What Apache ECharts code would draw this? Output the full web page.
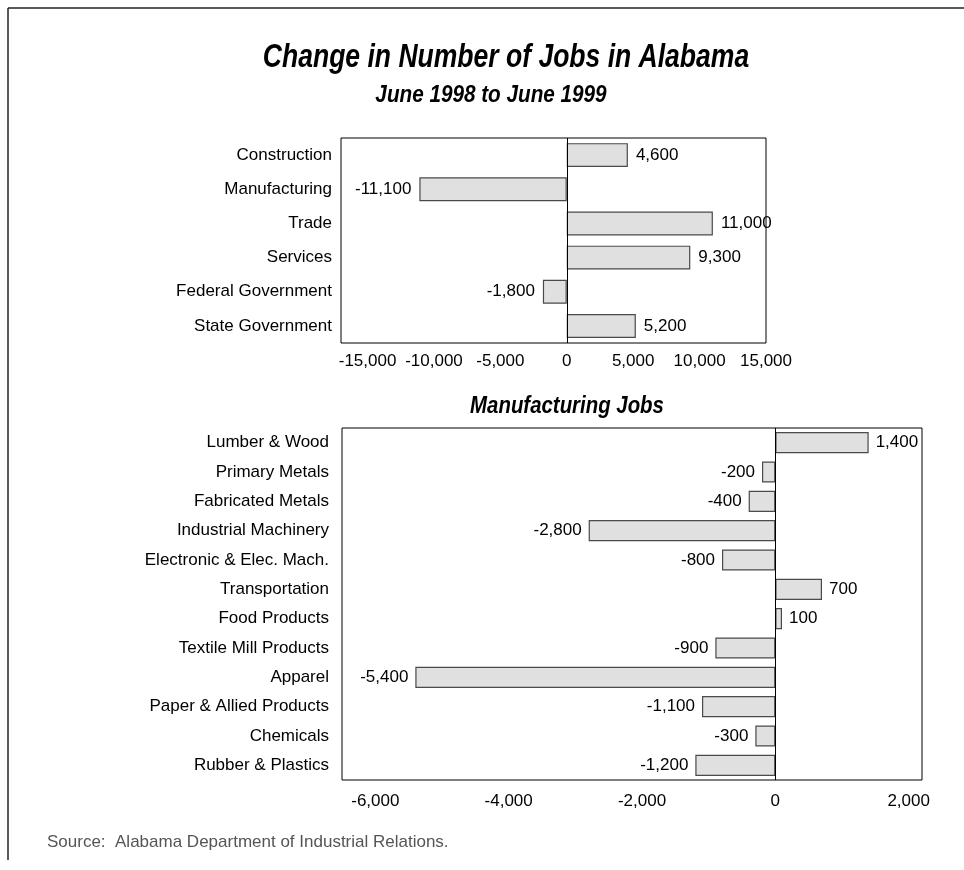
<!DOCTYPE html>
<html>
<head>
<meta charset="utf-8">
<script src="https://cdn.jsdelivr.net/npm/echarts@6/dist/echarts.min.js"></script>
<style>
  html, body { margin: 0; padding: 0; background: #fff; }
  #DataChart { width: 964px; height: 870px; }
</style>
</head>
<body>
<div id="DataChart"></div>
<script>
// data
var topCategories = ['Construction', 'Manufacturing', 'Trade', 'Services', 'Federal Government', 'State Government'];
var topValues = [4600, -11100, 11000, 9300, -1800, 5200];
var topTicks = [-15000, -10000, -5000, 0, 5000, 10000, 15000];

var mfgCategories = ['Lumber & Wood', 'Primary Metals', 'Fabricated Metals', 'Industrial Machinery',
    'Electronic & Elec. Mach.', 'Transportation', 'Food Products', 'Textile Mill Products',
    'Apparel', 'Paper & Allied Products', 'Chemicals', 'Rubber & Plastics'];
var mfgValues = [1400, -200, -400, -2800, -800, 700, 100, -900, -5400, -1100, -300, -1200];
var mfgTicks = [-6000, -4000, -2000, 0, 2000];

var FONT = '"Liberation Sans", Arial, Helvetica, sans-serif';

function fmt(v) {
    var s = String(Math.abs(v)).replace(/\B(?=(\d{3})+(?!\d))/g, ',');
    return v < 0 ? '-' + s : s;
}

function barData(values) {
    return values.map(function (v) {
        return { value: v, label: { position: v < 0 ? 'left' : 'right' } };
    });
}

var myChart = echarts.init(document.getElementById('DataChart'));

var barStyle = {
    color: '#e0e0e0',
    borderColor: '#4a4a4a',
    borderWidth: 1.2
};

var zeroLine = {
    silent: true,
    symbol: ['none', 'none'],
    label: { show: false },
    lineStyle: { color: '#000', width: 1, type: 'solid' },
    data: [{ xAxis: 0 }]
};

function valueAxis(gridIndex, min, max, ticks, margin) {
    return {
        type: 'value',
        gridIndex: gridIndex,
        min: min,
        max: max,
        axisLine: { show: false },
        axisTick: { show: false },
        splitLine: { show: false },
        axisLabel: {
            customValues: ticks,
            margin: margin,
            color: '#000',
            fontSize: 17,
            fontFamily: FONT,
            formatter: fmt
        }
    };
}

function catAxis(gridIndex, cats, margin) {
    return {
        type: 'category',
        gridIndex: gridIndex,
        data: cats,
        inverse: true,
        axisLine: { show: false },
        axisTick: { show: false },
        splitLine: { show: false },
        axisLabel: {
            margin: margin,
            color: '#000',
            fontSize: 17,
            fontFamily: FONT
        }
    };
}

var option = {
    animation: false,
    backgroundColor: '#fff',
    grid: [
        { left: 341, top: 138, width: 425, height: 205, show: true, borderColor: '#000', borderWidth: 1 },
        { left: 342, top: 428, width: 580, height: 352, show: true, borderColor: '#000', borderWidth: 1 }
    ],
    xAxis: [
        valueAxis(0, -17000, 15000, topTicks, 10),
        valueAxis(1, -6500, 2200, mfgTicks, 13)
    ],
    yAxis: [
        catAxis(0, topCategories, 9),
        catAxis(1, mfgCategories, 13)
    ],
    series: [
        {
            type: 'bar',
            xAxisIndex: 0,
            yAxisIndex: 0,
            data: barData(topValues),
            barCategoryGap: '30%',
            itemStyle: barStyle,
            label: { show: true, distance: 8, color: '#000', fontSize: 17, fontFamily: FONT, formatter: function (p) { return fmt(p.value); } },
            markLine: zeroLine
        },
        {
            type: 'bar',
            xAxisIndex: 1,
            yAxisIndex: 1,
            data: barData(mfgValues),
            barCategoryGap: '28%',
            itemStyle: barStyle,
            label: { show: true, distance: 7, color: '#000', fontSize: 17, fontFamily: FONT, formatter: function (p) { return fmt(p.value); } },
            markLine: zeroLine
        }
    ],
    graphic: [
        // frame
        { type: 'line', shape: { x1: 8, y1: 8, x2: 964, y2: 8 }, style: { stroke: '#222', lineWidth: 1.5 } },
        { type: 'line', shape: { x1: 8, y1: 8, x2: 8, y2: 860 }, style: { stroke: '#222', lineWidth: 1.5 } },
        {
            type: 'text', x: 506, y: 58, scaleX: 0.78,
            style: { text: 'Change in Number of Jobs in Alabama', fontSize: 34, fontWeight: 'bold', fontStyle: 'italic', fontFamily: FONT, fill: '#000', textAlign: 'center', textVerticalAlign: 'middle' }
        },
        {
            type: 'text', x: 491, y: 96, scaleX: 0.9,
            style: { text: 'June 1998 to June 1999', fontSize: 23, fontWeight: 'bold', fontStyle: 'italic', fontFamily: FONT, fill: '#000', textAlign: 'center', textVerticalAlign: 'middle' }
        },
        {
            type: 'text', x: 567, y: 406, scaleX: 0.85,
            style: { text: 'Manufacturing Jobs', fontSize: 24, fontWeight: 'bold', fontStyle: 'italic', fontFamily: FONT, fill: '#000', textAlign: 'center', textVerticalAlign: 'middle' }
        },
        {
            type: 'text', x: 47, y: 842,
            style: { text: 'Source:  Alabama Department of Industrial Relations.', fontSize: 17, fontFamily: FONT, fill: '#555', textAlign: 'left', textVerticalAlign: 'middle' }
        }
    ]
};

myChart.setOption(option);
</script>
</body>
</html>
